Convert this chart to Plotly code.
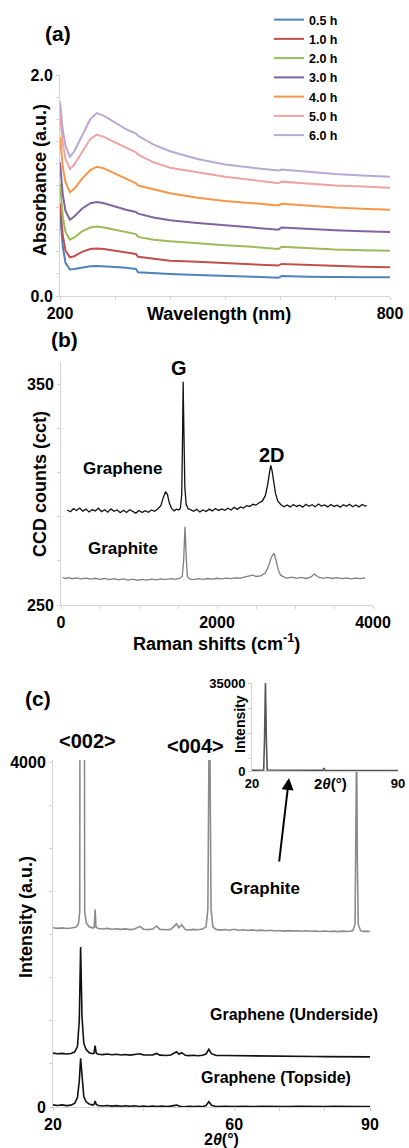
import plotly.graph_objects as go

W, H = 409, 1148
FONT = "Liberation Sans, Arial, sans-serif"

# ---------------- Panel (a): UV-vis absorbance ----------------
wavelength = [200, 205, 210, 218, 226, 240, 255, 267, 280, 300, 320, 338, 342, 370,
              400, 450, 500, 550, 597, 603, 650, 700, 750, 800]
abs_05h = [0.75, 0.45, 0.30, 0.24, 0.245, 0.26, 0.27, 0.272, 0.27, 0.262, 0.255, 0.245, 0.215, 0.205,
           0.20, 0.19, 0.185, 0.175, 0.165, 0.18, 0.175, 0.17, 0.17, 0.17]
abs_10h = [0.84, 0.55, 0.41, 0.35, 0.36, 0.40, 0.425, 0.43, 0.425, 0.41, 0.395, 0.38, 0.355, 0.335,
           0.32, 0.31, 0.30, 0.29, 0.275, 0.29, 0.28, 0.27, 0.265, 0.26]
abs_20h = [1.02, 0.72, 0.58, 0.51, 0.53, 0.585, 0.62, 0.63, 0.62, 0.60, 0.58, 0.56, 0.535, 0.51,
           0.495, 0.475, 0.46, 0.445, 0.425, 0.445, 0.43, 0.42, 0.415, 0.41]
abs_30h = [1.21, 0.92, 0.77, 0.69, 0.72, 0.79, 0.84, 0.85, 0.84, 0.81, 0.78, 0.76, 0.745, 0.71,
           0.685, 0.66, 0.64, 0.625, 0.60, 0.62, 0.605, 0.595, 0.585, 0.58]
abs_40h = [1.44, 1.17, 1.03, 0.94, 0.97, 1.06, 1.14, 1.17, 1.155, 1.11, 1.06, 1.02, 1.00, 0.965,
           0.93, 0.89, 0.86, 0.84, 0.82, 0.835, 0.815, 0.80, 0.79, 0.78]
abs_50h = [1.65, 1.38, 1.24, 1.15, 1.19, 1.30, 1.42, 1.46, 1.44, 1.39, 1.34, 1.30, 1.28, 1.21,
           1.16, 1.12, 1.08, 1.05, 1.02, 1.035, 1.015, 1.00, 0.99, 0.98]
abs_60h = [1.76, 1.50, 1.36, 1.26, 1.31, 1.45, 1.60, 1.655, 1.63, 1.57, 1.51, 1.47, 1.45, 1.37,
           1.31, 1.24, 1.19, 1.16, 1.135, 1.145, 1.125, 1.105, 1.09, 1.08]
uv_names = ["0.5 h", "1.0 h", "2.0 h", "3.0 h", "4.0 h", "5.0 h", "6.0 h"]
uv_colors = ["#4F81BD", "#C0504D", "#9BBB59", "#8064A2", "#F79646", "#EFA3A3", "#B9A8D6"]

# ---------------- Panel (b): Raman ----------------
raman_graphene_x = [80, 120, 160, 200, 240, 280, 320, 360, 400, 440, 480, 520, 560, 600, 640, 680, 720,
                    760, 800, 840, 880, 920, 960, 1000, 1040, 1080, 1120, 1160, 1200, 1240, 1280, 1310,
                    1340, 1365, 1390, 1420, 1450, 1480, 1510, 1530, 1548, 1558, 1566, 1575, 1588, 1605,
                    1630, 1660, 1700, 1740, 1780, 1820, 1860, 1900, 1940, 1980, 2020, 2060, 2100, 2140,
                    2180, 2220, 2260, 2300, 2340, 2380, 2420, 2460, 2500, 2540, 2580, 2620, 2650, 2675,
                    2690, 2705, 2725, 2750, 2780, 2820, 2860, 2900, 2940, 2980, 3020, 3060, 3100, 3140,
                    3180, 3220, 3260, 3300, 3340, 3380, 3420, 3460, 3500, 3540, 3580, 3620, 3660, 3700,
                    3740, 3780, 3820, 3860, 3900, 3920]
raman_graphene_y = [293.0, 292.2, 293.6, 292.8, 293.9, 292.5, 293.4, 292.1, 293.2, 292.6, 293.8, 292.3,
                    293.1, 292.0, 293.5, 292.4, 293.0, 291.8, 292.9, 291.9, 293.1, 292.2, 291.6, 292.8,
                    291.9, 292.7, 292.0, 293.0, 292.4, 293.5, 295.0, 298.5, 301.3, 300.0, 296.0, 293.6,
                    292.6, 293.4, 293.0, 293.8, 300.0, 325.0, 351.0, 330.0, 303.0, 295.5, 293.6, 293.2,
                    292.4, 293.3, 292.1, 293.0, 292.3, 293.4, 292.6, 293.7, 292.8, 293.5, 292.9, 293.8,
                    293.0, 294.2, 293.3, 294.4, 293.9, 295.0, 294.6, 295.6, 295.2, 296.3, 297.0, 299.5,
                    304.5, 310.5, 313.2, 311.0, 306.0, 300.5, 297.0, 295.4, 294.5, 295.3, 294.4, 295.5,
                    294.6, 295.2, 294.3, 295.6, 294.7, 295.4, 294.5, 295.7, 294.8, 295.3, 294.4, 295.5,
                    294.6, 295.2, 294.3, 295.4, 294.7, 295.6, 294.5, 295.3, 294.4, 295.5, 294.8, 295.0]
raman_graphite_x = [20, 60, 100, 140, 200, 260, 320, 380, 440, 500, 560, 620, 680, 740, 800, 860, 920,
                    980, 1040, 1100, 1160, 1220, 1280, 1340, 1400, 1460, 1520, 1555, 1572, 1590, 1606,
                    1620, 1645, 1700, 1760, 1820, 1880, 1940, 2000, 2060, 2120, 2180, 2240, 2300, 2360,
                    2420, 2460, 2500, 2560, 2620, 2660, 2695, 2730, 2755, 2785, 2815, 2860, 2900, 2960,
                    3020, 3080, 3140, 3200, 3250, 3300, 3360, 3420, 3480, 3540, 3600, 3660, 3720, 3780,
                    3840, 3900]
raman_graphite_y = [262.5, 262.0, 262.4, 261.9, 262.3, 261.8, 262.2, 261.7, 262.1, 261.6, 262.0, 261.5,
                    261.9, 261.4, 261.8, 261.3, 261.7, 261.2, 261.6, 261.3, 261.7, 261.4, 261.8, 261.5,
                    261.9, 261.6, 262.0, 263.0, 270.0, 285.4, 271.0, 263.0, 261.8, 261.5, 261.9, 261.6,
                    262.0, 261.7, 262.1, 261.8, 262.2, 261.9, 262.3, 262.2, 262.7, 263.2, 263.5, 262.9,
                    263.2, 264.5, 267.5, 271.5, 273.4, 270.5, 266.0, 263.5, 262.6, 262.2, 262.6, 262.1,
                    262.5, 262.0, 262.6, 264.0, 262.6, 262.1, 262.5, 262.0, 262.4, 261.9, 262.3, 261.8,
                    262.2, 261.9, 262.3]

# ---------------- Panel (c): XRD ----------------
xrd_graphite_x = [20, 21, 22, 23, 24, 25, 25.6, 25.9, 26.05, 26.45, 26.85, 27.0, 27.4, 28.0, 28.8, 29.1,
                  29.3, 29.5, 30, 31, 32, 33, 34, 35, 36, 37, 38, 39.2, 40, 41, 42, 42.9, 43.6, 45, 46,
                  47.3, 47.8, 48.4, 49.2, 50, 51, 52, 53, 53.8, 54.2, 54.4, 54.55, 54.7, 54.9, 55.3, 56,
                  57, 58, 59, 60, 61, 62, 63, 64, 65, 66, 67, 68, 69, 70, 71, 72, 73, 74, 75, 76, 77, 78,
                  79, 80, 81, 82, 83, 84, 85, 86.2, 86.7, 86.9, 87.05, 87.2, 87.4, 87.9, 88.5, 89, 90]
xrd_graphite_y = [2080, 2072, 2078, 2070, 2076, 2085, 2120, 2260, 8000, 35000, 8000, 2260, 2130, 2090,
                  2075, 2085, 2290, 2085, 2070, 2065, 2072, 2062, 2068, 2060, 2066, 2058, 2064, 2095,
                  2062, 2058, 2064, 2100, 2060, 2056, 2060, 2125, 2080, 2115, 2058, 2054, 2060, 2056,
                  2064, 2090, 2300, 3800, 5500, 3800, 2300, 2090, 2060, 2052, 2058, 2050, 2062, 2050,
                  2056, 2048, 2054, 2046, 2052, 2044, 2050, 2042, 2048, 2040, 2046, 2040, 2044, 2038,
                  2044, 2038, 2042, 2036, 2042, 2036, 2040, 2034, 2040, 2036, 2045, 2120, 2900, 4300,
                  2900, 2120, 2045, 2036, 2040, 2035]
xrd_under_x = [20, 21, 22, 23, 24, 24.8, 25.4, 25.8, 26.1, 26.4, 26.8, 27.3, 28, 28.8, 29.05, 29.3,
               29.55, 30, 31, 32, 33, 34, 35, 36, 37, 38, 39.2, 40, 41, 42, 42.9, 43.6, 45, 46, 47.3,
               47.8, 48.4, 49.2, 50, 51, 52, 53, 53.8, 54.4, 55.0, 56, 58, 60, 62, 64, 66, 68, 70, 72,
               74, 76, 78, 80, 82, 84, 86, 88, 90]
xrd_under_y = [625, 618, 622, 615, 620, 640, 700, 1000, 1855, 1050, 740, 665, 630, 618, 625, 712, 625,
               612, 608, 614, 606, 611, 604, 609, 602, 607, 618, 603, 600, 605, 622, 602, 598, 603, 640,
               612, 630, 600, 596, 601, 595, 600, 615, 670, 618, 598, 597, 595, 594, 592, 591, 590, 589,
               588, 587, 586, 585, 584, 584, 583, 583, 583, 582]
xrd_top_x = [20, 21, 22, 23, 24, 24.8, 25.4, 25.8, 26.1, 26.4, 26.8, 27.3, 28, 28.8, 29.05, 29.3, 29.55,
             30, 31, 32, 33, 34, 35, 36, 37, 38, 39, 40, 41, 42, 43, 44, 45, 46, 47.3, 48, 49, 50, 51,
             52, 53, 53.8, 54.4, 55.0, 56, 58, 60, 62, 64, 66, 68, 70, 72, 74, 76, 78, 80, 82, 84, 86,
             88, 90]
xrd_top_y = [25, 18, 24, 16, 22, 45, 110, 300, 565, 320, 120, 60, 35, 22, 30, 70, 30, 18, 12, 18, 10,
             16, 9, 15, 8, 14, 6, 12, 6, 12, 5, 11, 4, 10, 22, 8, 3, 9, 4, 8, 4, 18, 62, 20, 6, 8, 4,
             9, 4, 8, 4, 8, 4, 8, 4, 8, 4, 8, 4, 8, 4, 6]
inset_x = [20, 25.6, 26.0, 26.45, 26.9, 27.3, 54.0, 54.5, 55.0, 90]
inset_y = [300, 400, 12000, 35000, 12000, 400, 300, 1200, 300, 200]


def px(x):
    return x / W


def py(y):
    return 1 - y / H


fig = go.Figure()

for name, color, vals in zip(uv_names, uv_colors,
                             [abs_05h, abs_10h, abs_20h, abs_30h, abs_40h, abs_50h, abs_60h]):
    fig.add_trace(go.Scatter(x=wavelength, y=vals, mode="lines", name=name,
                             line=dict(color=color, width=2), xaxis="x", yaxis="y"))

fig.add_trace(go.Scatter(x=raman_graphene_x, y=raman_graphene_y, mode="lines", showlegend=False,
                         line=dict(color="#111111", width=1.3), xaxis="x2", yaxis="y2"))
fig.add_trace(go.Scatter(x=raman_graphite_x, y=raman_graphite_y, mode="lines", showlegend=False,
                         line=dict(color="#7f7f7f", width=1.3), xaxis="x2", yaxis="y2"))

fig.add_trace(go.Scatter(x=xrd_graphite_x, y=xrd_graphite_y, mode="lines", showlegend=False,
                         line=dict(color="#8c8c8c", width=1.6), xaxis="x3", yaxis="y3"))
fig.add_trace(go.Scatter(x=xrd_under_x, y=xrd_under_y, mode="lines", showlegend=False,
                         line=dict(color="#111111", width=1.6), xaxis="x3", yaxis="y3"))
fig.add_trace(go.Scatter(x=xrd_top_x, y=xrd_top_y, mode="lines", showlegend=False,
                         line=dict(color="#111111", width=1.6), xaxis="x3", yaxis="y3"))

fig.add_trace(go.Scatter(x=inset_x, y=inset_y, mode="lines", showlegend=False,
                         line=dict(color="#555555", width=1.6), xaxis="x4", yaxis="y4"))

AX = dict(showline=True, linecolor="#d4d4d4", linewidth=1, ticks="outside", ticklen=3,
          tickcolor="#d4d4d4", showgrid=False, zeroline=False, automargin=False,
          tickfont=dict(family=FONT, size=16, color="black", weight="bold"))


def blank_labels(vals, keep):
    return [str(v) if v in keep else "" for v in vals]


a_x_ticks = [200, 300, 400, 500, 600, 700, 800]
a_y_ticks = [0.0, 0.2, 0.4, 0.6, 0.8, 1.0, 1.2, 1.4, 1.6, 1.8, 2.0]
b_x_ticks = [0, 500, 1000, 1500, 2000, 2500, 3000, 3500, 4000]
b_y_ticks = [250, 270, 290, 310, 330, 350]
c_x_ticks = [20, 30, 40, 50, 60, 70, 80, 90]
c_y_ticks = [0, 500, 1000, 1500, 2000, 2500, 3000, 3500, 4000]
i_y_ticks = [0, 5000, 15000, 25000, 35000]

fig.update_layout(
    template="none",
    width=W, height=H, margin=dict(l=0, r=0, t=0, b=0, pad=0), autosize=False,
    paper_bgcolor="white", plot_bgcolor="white",
    font=dict(family=FONT, size=16, color="black", weight="bold"),
    xaxis=dict(AX, domain=[px(60), px(390)], range=[200, 800], anchor="y",
               tickvals=a_x_ticks, ticktext=blank_labels(a_x_ticks, [200, 800])),
    yaxis=dict(AX, domain=[py(296), py(75)], range=[0, 2.0], anchor="x",
               tickvals=a_y_ticks, ticktext=["0.0"] + [""] * 9 + ["2.0"]),
    xaxis2=dict(AX, domain=[px(61), px(373)], range=[0, 4000], anchor="y2",
                tickvals=b_x_ticks, ticktext=blank_labels(b_x_ticks, [0, 2000, 4000])),
    yaxis2=dict(AX, domain=[py(605), py(362)], range=[250, 360], anchor="x2",
                tickvals=b_y_ticks, ticktext=blank_labels(b_y_ticks, [250, 350])),
    xaxis3=dict(AX, domain=[px(53), px(370)], range=[20, 90], anchor="y3",
                tickvals=c_x_ticks, ticktext=blank_labels(c_x_ticks, [20, 60, 90])),
    yaxis3=dict(AX, domain=[py(1107), py(760)], range=[0, 4025], anchor="x3",
                tickvals=c_y_ticks, ticktext=blank_labels(c_y_ticks, [0, 4000])),
    xaxis4=dict(AX, domain=[px(252), px(398)], range=[20, 90], anchor="y4",
                tickvals=[20, 90], ticktext=["20", "90"], ticks="",
                tickfont=dict(family=FONT, size=13, color="black", weight="bold")),
    yaxis4=dict(AX, domain=[py(771), py(683)], range=[0, 35000], anchor="x4",
                tickvals=i_y_ticks, ticktext=["0", "", "", "", "35000"],
                tickfont=dict(family=FONT, size=13, color="black", weight="bold")),
    legend=dict(x=px(269), y=py(5), xanchor="left", yanchor="top", bgcolor="rgba(0,0,0,0)",
                font=dict(family=FONT, size=12.5, color="black", weight="bold"),
                itemwidth=30, tracegroupgap=0, borderwidth=0),
)


def label(text, x, y, size=16, angle=0):
    fig.add_annotation(text=text, x=px(x), y=py(y), xref="paper", yref="paper",
                       showarrow=False, textangle=angle, xanchor="center", yanchor="middle",
                       font=dict(family=FONT, size=size, color="black", weight="bold"))


# panel (a)
label("(a)", 58, 34, 21)
label("Absorbance (a.u.)", 40, 180, 18, -90)
label("Wavelength (nm)", 219, 314, 18)
# panel (b)
label("(b)", 64, 339, 21)
label("G", 179, 368, 20)
label("2D", 272, 455, 20)
label("Graphene", 122, 468, 17)
label("Graphite", 123, 548, 17)
label("CCD counts (cct)", 40, 484, 18, -90)
label("Raman shifts (cm<sup>-1</sup>)", 217, 642, 18)
# panel (c)
label("(c)", 38, 698, 21)
label("&lt;002&gt;", 87, 741, 20)
label("&lt;004&gt;", 195, 746, 20)
label("Graphite", 265, 888, 17)
label("Graphene (Underside)", 294, 1014, 16)
label("Graphene (Topside)", 276, 1077, 16)
label("Intensity (a.u.)", 26, 917, 18, -90)
label("2<i>θ</i>(°)", 222, 1139, 16)
# inset
label("Intensity", 240, 724, 14, -90)
label("2<i>θ</i>(°)", 330, 783, 15)

fig.add_annotation(x=px(289), y=py(778), xref="paper", yref="paper", ax=-10, ay=85,
                   axref="pixel", ayref="pixel", text="", showarrow=True,
                   arrowhead=2, arrowsize=1.2, arrowwidth=2, arrowcolor="black")

fig.write_html("out.html", config={"displayModeBar": False},
               post_script="document.body.style.margin='0px';")
